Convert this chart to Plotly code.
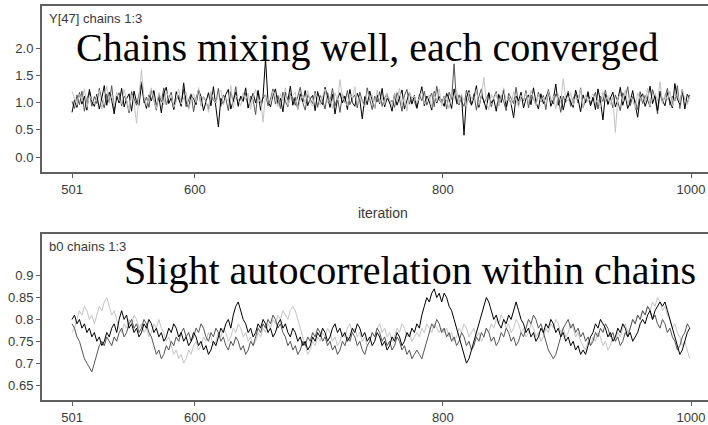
import plotly.graph_objects as go

# iterations (every 2nd iteration of 501..1000)
iterations = list(range(501, 1001, 2))

# ---- Y[47] chains 1:3 ----
y47_chain1 = [
0.82,1.05,0.91,1.18,0.97,1.12,0.86,1.24,1.02,0.93,
1.15,0.88,1.08,1.31,0.95,1.19,1.04,0.79,1.12,0.99,
1.26,0.92,1.07,1.16,0.84,1.21,1.01,0.95,1.33,1.06,
0.89,1.14,1.03,1.22,0.94,1.10,0.81,1.17,1.28,0.98,
1.09,0.87,1.20,1.04,0.93,1.36,1.01,0.90,1.13,1.07,
0.96,1.23,1.11,0.85,1.02,1.18,0.94,1.29,0.91,0.55,
1.08,0.97,1.15,1.24,0.88,1.06,1.19,0.93,1.12,1.02,
1.27,0.90,1.05,1.17,0.99,1.21,0.86,1.11,1.80,1.03,
0.92,1.14,1.25,0.97,1.08,0.83,1.19,1.04,1.30,0.95,
1.10,0.88,1.16,1.01,1.22,0.94,1.07,1.13,0.85,1.20,
1.03,0.96,1.28,1.09,0.91,1.15,0.79,1.06,1.18,0.99,
1.12,0.87,1.24,1.00,0.93,1.17,1.05,0.70,1.11,0.96,
1.21,1.04,0.89,1.14,0.98,1.26,0.92,1.08,1.01,0.84,
1.16,0.95,1.10,1.23,0.88,1.05,1.19,0.97,1.13,0.90,
1.07,1.29,0.94,1.12,1.02,0.86,1.20,0.99,1.11,1.04,
0.93,1.17,1.06,0.89,1.25,1.01,0.96,1.14,0.40,1.09,
1.22,0.95,1.08,1.31,0.91,1.13,1.03,0.87,1.18,0.99,
1.06,0.84,1.15,1.00,1.24,0.92,1.10,0.97,0.72,1.12,
1.03,1.19,0.90,1.07,1.14,0.96,1.27,1.01,0.88,1.16,
0.98,1.09,1.21,0.93,1.05,1.34,0.95,1.12,0.86,1.08,
1.17,1.00,0.91,1.23,1.06,0.83,1.14,0.99,1.20,0.94,
1.10,0.87,1.25,1.03,0.68,1.15,0.97,1.08,1.19,0.92,
1.05,1.28,0.95,1.12,0.89,1.01,1.22,0.96,0.73,1.09,
1.16,0.93,1.07,1.30,0.98,1.13,0.85,1.21,1.04,0.94,
1.18,1.02,0.90,1.35,1.06,0.97,1.24,0.88,1.15,1.08]

y47_chain2 = [
1.02,0.89,1.14,0.96,1.21,0.84,1.07,1.19,0.93,1.11,
0.98,1.26,1.05,0.90,1.16,1.00,1.31,0.87,1.09,1.18,
0.94,1.12,1.03,0.81,1.20,1.07,0.95,1.15,1.38,0.99,
1.10,0.91,1.23,1.04,0.86,1.17,1.01,1.27,0.96,1.08,
1.19,0.88,1.06,1.13,0.97,1.24,0.92,1.05,1.16,0.83,
1.09,1.22,0.95,1.11,1.02,0.87,1.18,1.04,0.99,1.26,
0.93,1.14,1.07,0.85,1.20,1.01,1.29,0.96,1.10,1.03,
1.17,0.90,1.12,1.05,0.78,1.23,0.99,1.08,1.15,0.94,
1.06,1.25,0.97,1.13,0.89,1.19,1.02,0.92,1.16,1.09,
0.95,1.11,1.28,1.00,0.86,1.14,1.07,0.98,1.21,0.91,
1.13,1.04,0.88,1.18,1.01,1.26,0.94,1.09,0.82,1.15,
1.00,1.22,0.96,1.08,1.14,0.90,1.19,1.03,0.95,1.27,
1.06,0.87,1.12,1.01,1.20,0.93,1.09,1.16,0.98,1.04,
0.91,1.18,1.07,0.84,1.13,1.24,0.97,1.10,1.02,0.89,
1.15,1.03,1.21,0.95,1.08,1.17,0.92,1.30,1.05,0.99,
1.12,0.88,1.19,1.06,1.71,0.97,1.14,1.01,0.93,1.23,
1.04,0.96,1.16,0.86,1.11,1.25,0.99,1.07,1.18,0.92,
1.09,1.20,0.94,1.13,1.02,0.85,1.17,1.06,0.98,1.28,
0.95,1.10,1.03,1.22,0.90,1.14,1.07,0.96,1.19,1.01,
1.13,0.87,1.24,1.05,0.97,1.16,1.09,0.82,1.12,1.00,
1.21,0.93,1.08,1.15,0.99,1.27,0.91,1.04,1.17,0.95,
1.06,1.19,0.88,1.12,1.02,1.23,0.96,1.10,0.90,1.14,
1.01,0.85,1.18,1.07,1.29,0.94,1.11,1.03,0.87,1.20,
0.98,1.13,1.05,0.92,1.24,1.08,0.79,1.16,1.00,1.10,
1.26,0.95,1.12,1.03,1.31,0.89,1.17,1.06,0.99,1.14]

y47_chain3 = [
1.20,1.08,0.95,1.16,1.02,1.25,0.91,1.13,1.04,0.97,
1.11,1.22,0.88,1.07,1.30,1.00,1.15,0.93,1.19,1.05,
0.98,1.24,1.06,0.85,1.14,1.01,0.62,1.17,1.60,1.09,
0.94,1.12,1.27,1.03,0.89,1.18,1.05,0.96,1.21,1.08,
1.14,0.91,1.02,1.25,0.97,1.10,1.19,0.87,1.06,1.16,
1.00,1.28,0.93,1.11,1.04,0.82,1.20,1.07,0.99,1.15,
1.23,0.96,1.09,1.02,1.31,0.90,1.13,1.06,0.94,1.18,
1.05,1.17,0.88,1.12,1.24,0.99,1.07,0.64,1.15,1.02,
0.97,1.21,1.10,0.92,1.16,1.03,1.27,0.95,1.08,1.13,
1.19,0.86,1.05,1.14,0.98,1.22,1.01,0.93,1.17,1.09,
0.95,1.12,1.25,1.00,1.07,0.89,1.18,1.04,1.42,1.10,
1.03,0.94,1.16,1.08,1.29,0.97,1.11,1.02,0.91,1.20,
1.07,1.14,0.88,1.23,1.00,1.09,0.96,1.17,1.05,0.93,
1.15,1.02,1.26,0.95,1.10,0.84,1.19,1.06,1.12,0.99,
1.08,1.21,0.97,1.04,1.14,0.91,1.18,1.01,1.25,0.94,
1.11,1.03,0.89,1.16,1.07,1.22,0.98,1.13,1.05,0.92,
1.19,1.08,1.00,1.24,0.95,1.12,1.46,1.02,0.87,1.15,
1.06,1.17,0.93,1.10,1.27,1.01,1.09,0.96,1.20,1.04,
0.91,1.13,1.05,1.18,0.99,1.22,1.07,0.94,1.15,1.02,
1.10,0.97,1.21,1.04,1.12,0.88,1.16,1.00,1.44,1.07,
1.03,1.18,0.95,1.11,1.06,1.25,0.92,1.14,1.01,1.09,
1.16,0.99,1.07,0.89,1.20,1.04,1.13,0.96,1.10,0.45,
1.08,1.15,1.02,1.23,0.97,1.11,1.05,0.90,1.18,1.06,
1.12,1.00,1.26,0.94,1.09,1.17,1.03,1.38,0.98,1.14,
1.05,1.21,0.93,1.10,1.16,0.99,1.24,1.07,0.96,1.12]

# ---- b0 chains 1:3 ----
b0_chain1 = [
0.80,0.81,0.79,0.80,0.78,0.79,0.77,0.78,0.76,0.77,
0.75,0.76,0.74,0.75,0.77,0.76,0.78,0.79,0.77,0.80,
0.82,0.80,0.81,0.78,0.79,0.77,0.78,0.76,0.77,0.79,
0.78,0.80,0.79,0.77,0.78,0.76,0.77,0.75,0.76,0.78,
0.77,0.79,0.78,0.76,0.77,0.75,0.76,0.74,0.75,0.77,
0.76,0.74,0.75,0.73,0.74,0.72,0.73,0.75,0.74,0.76,
0.78,0.77,0.79,0.80,0.78,0.81,0.83,0.84,0.82,0.80,
0.79,0.77,0.78,0.76,0.77,0.79,0.78,0.80,0.79,0.77,
0.78,0.76,0.77,0.79,0.80,0.78,0.79,0.77,0.76,0.78,
0.77,0.75,0.76,0.74,0.75,0.73,0.74,0.76,0.75,0.77,
0.76,0.78,0.77,0.75,0.76,0.78,0.79,0.77,0.78,0.76,
0.77,0.75,0.76,0.78,0.77,0.79,0.78,0.76,0.77,0.75,
0.76,0.74,0.75,0.77,0.76,0.74,0.75,0.73,0.74,0.76,
0.75,0.77,0.76,0.74,0.75,0.77,0.76,0.78,0.77,0.79,
0.78,0.81,0.83,0.85,0.84,0.86,0.87,0.85,0.86,0.84,
0.86,0.85,0.83,0.82,0.80,0.78,0.76,0.74,0.72,0.70,
0.71,0.73,0.75,0.77,0.79,0.81,0.83,0.85,0.84,0.82,
0.80,0.81,0.79,0.78,0.80,0.79,0.81,0.80,0.82,0.84,
0.82,0.80,0.79,0.77,0.78,0.76,0.77,0.75,0.76,0.78,
0.77,0.79,0.78,0.80,0.79,0.77,0.78,0.76,0.77,0.75,
0.76,0.74,0.75,0.73,0.74,0.72,0.73,0.72,0.74,0.76,
0.77,0.79,0.78,0.80,0.79,0.78,0.76,0.77,0.75,0.76,
0.78,0.77,0.79,0.78,0.76,0.77,0.75,0.76,0.77,0.79,
0.80,0.79,0.81,0.82,0.80,0.82,0.83,0.84,0.83,0.84,
0.82,0.80,0.78,0.76,0.74,0.72,0.73,0.75,0.77,0.78]

b0_chain2 = [
0.79,0.78,0.76,0.75,0.73,0.71,0.70,0.69,0.68,0.70,
0.72,0.74,0.75,0.74,0.76,0.75,0.74,0.76,0.75,0.77,
0.78,0.76,0.77,0.79,0.80,0.78,0.79,0.77,0.78,0.80,
0.79,0.77,0.76,0.74,0.72,0.73,0.71,0.72,0.74,0.73,
0.75,0.74,0.76,0.75,0.77,0.78,0.76,0.77,0.75,0.76,
0.78,0.77,0.79,0.78,0.76,0.75,0.77,0.76,0.78,0.77,
0.75,0.76,0.74,0.73,0.75,0.74,0.76,0.75,0.73,0.74,
0.72,0.73,0.75,0.74,0.76,0.78,0.77,0.79,0.78,0.80,
0.79,0.81,0.80,0.78,0.79,0.77,0.76,0.74,0.75,0.73,
0.74,0.72,0.73,0.75,0.74,0.76,0.75,0.77,0.76,0.78,
0.77,0.75,0.76,0.74,0.75,0.73,0.74,0.72,0.73,0.75,
0.74,0.76,0.75,0.77,0.76,0.74,0.75,0.73,0.72,0.74,
0.75,0.77,0.76,0.78,0.77,0.75,0.76,0.74,0.75,0.73,
0.74,0.76,0.75,0.73,0.74,0.72,0.73,0.71,0.72,0.73,
0.72,0.71,0.73,0.75,0.77,0.79,0.78,0.80,0.79,0.77,
0.78,0.76,0.77,0.75,0.76,0.74,0.75,0.77,0.76,0.74,
0.75,0.73,0.74,0.76,0.75,0.77,0.76,0.78,0.77,0.75,
0.76,0.74,0.75,0.77,0.76,0.78,0.77,0.75,0.76,0.74,
0.75,0.77,0.76,0.78,0.80,0.79,0.81,0.80,0.78,0.79,
0.77,0.75,0.73,0.72,0.71,0.72,0.74,0.76,0.78,0.79,
0.80,0.78,0.79,0.77,0.78,0.76,0.77,0.75,0.76,0.74,
0.75,0.77,0.76,0.78,0.77,0.79,0.78,0.76,0.77,0.75,
0.76,0.74,0.75,0.77,0.76,0.78,0.80,0.79,0.81,0.80,
0.82,0.81,0.83,0.82,0.80,0.81,0.79,0.78,0.80,0.79,
0.77,0.78,0.76,0.75,0.73,0.74,0.76,0.77,0.79,0.78]

b0_chain3 = [
0.77,0.78,0.80,0.82,0.81,0.83,0.82,0.80,0.81,0.79,
0.81,0.83,0.82,0.84,0.85,0.83,0.81,0.82,0.80,0.78,
0.77,0.79,0.78,0.80,0.79,0.81,0.80,0.78,0.79,0.77,
0.78,0.76,0.77,0.79,0.78,0.80,0.78,0.77,0.75,0.76,
0.74,0.72,0.73,0.71,0.72,0.70,0.71,0.73,0.72,0.74,
0.75,0.73,0.74,0.76,0.75,0.77,0.76,0.74,0.75,0.77,
0.76,0.78,0.77,0.75,0.76,0.78,0.77,0.79,0.78,0.76,
0.77,0.75,0.76,0.74,0.75,0.77,0.76,0.78,0.77,0.79,
0.78,0.80,0.79,0.81,0.80,0.82,0.81,0.80,0.82,0.83,
0.82,0.80,0.78,0.76,0.74,0.72,0.73,0.75,0.74,0.76,
0.75,0.77,0.76,0.78,0.77,0.75,0.76,0.74,0.75,0.77,
0.76,0.78,0.79,0.77,0.78,0.76,0.77,0.75,0.76,0.74,
0.75,0.77,0.76,0.78,0.79,0.77,0.78,0.76,0.77,0.75,
0.76,0.78,0.77,0.79,0.78,0.76,0.77,0.75,0.76,0.77,
0.76,0.78,0.77,0.79,0.78,0.77,0.79,0.78,0.77,0.78,
0.77,0.78,0.76,0.77,0.75,0.76,0.78,0.77,0.79,0.78,
0.76,0.77,0.78,0.76,0.77,0.75,0.76,0.78,0.77,0.79,
0.78,0.80,0.79,0.81,0.80,0.78,0.79,0.77,0.78,0.80,
0.79,0.77,0.78,0.76,0.77,0.79,0.78,0.76,0.77,0.75,
0.76,0.78,0.77,0.79,0.78,0.80,0.79,0.77,0.78,0.76,
0.77,0.79,0.78,0.76,0.77,0.75,0.74,0.73,0.75,0.74,
0.76,0.75,0.77,0.76,0.74,0.75,0.73,0.74,0.76,0.75,
0.77,0.76,0.78,0.79,0.77,0.78,0.80,0.79,0.81,0.80,
0.82,0.81,0.83,0.82,0.84,0.83,0.85,0.84,0.82,0.83,
0.81,0.80,0.78,0.79,0.77,0.76,0.74,0.75,0.73,0.71]

x_tickvals = [501, 600, 800, 1000]
top_tickvals = [0.0, 0.5, 1.0, 1.5, 2.0]
top_ticktext = ["0.0", "0.5", "1.0", "1.5", "2.0"]
bot_tickvals = [0.65, 0.7, 0.75, 0.8, 0.85, 0.9]
bot_ticktext = ["0.65", "0.7", "0.75", "0.8", "0.85", "0.9"]

chain_colors = ["#000000", "#555555", "#c4c4c4"]

W, H = 708, 425
def py(px):
    return 1 - px / H

fig = go.Figure()
top_chains = [y47_chain1, y47_chain2, y47_chain3]
bot_chains = [b0_chain1, b0_chain2, b0_chain3]
for idx in [1, 0, 2]:
    fig.add_trace(go.Scatter(x=iterations, y=top_chains[idx], mode="lines",
                             line=dict(color=chain_colors[idx], width=1),
                             xaxis="x", yaxis="y", showlegend=False, hoverinfo="skip"))
for idx in [2, 1, 0]:
    fig.add_trace(go.Scatter(x=iterations, y=bot_chains[idx], mode="lines",
                             line=dict(color=chain_colors[idx], width=1),
                             xaxis="x2", yaxis="y2", showlegend=False, hoverinfo="skip"))

tick_font = dict(family="Liberation Sans, Arial", size=13, color="#3a3a3a")
axis_common = dict(showgrid=False, zeroline=False, showline=True, mirror=True,
                   linecolor="#606060", linewidth=2, ticks="outside", ticklen=4,
                   tickcolor="#606060", tickwidth=1, tickfont=tick_font)
xdom = [42 / W, 1.0]
xr = [476.8, 1013.7]
label_font = dict(family="Liberation Sans, Arial", size=13, color="#3a3a3a")

fig.update_layout(
    template="none",
    width=W, height=H, margin=dict(l=0, r=0, t=0, b=0, pad=0),
    plot_bgcolor="white", paper_bgcolor="white",
    xaxis=dict(domain=xdom, range=xr, tickvals=x_tickvals, anchor="y", **axis_common),
    yaxis=dict(domain=[py(172), py(6)], range=[-0.275, 2.771], tickvals=top_tickvals,
               ticktext=top_ticktext, anchor="x", **axis_common),
    xaxis2=dict(domain=xdom, range=xr, tickvals=x_tickvals, anchor="y2", **axis_common),
    yaxis2=dict(domain=[py(400), py(234)], range=[0.6157, 0.9954], tickvals=bot_tickvals,
                ticktext=bot_ticktext, anchor="x2", **axis_common),
    annotations=[
        dict(text="Y[47] chains 1:3", x=47 / W, y=py(19), xref="paper", yref="paper",
             xanchor="left", yanchor="middle", showarrow=False, font=label_font),
        dict(text="b0 chains 1:3", x=47 / W, y=py(246), xref="paper", yref="paper",
             xanchor="left", yanchor="middle", showarrow=False, font=label_font),
        dict(text="iteration", x=383 / W, y=py(213), xref="paper", yref="paper",
             xanchor="center", yanchor="middle", showarrow=False,
             font=dict(family="Liberation Sans, Arial", size=14, color="#3a3a3a")),
        dict(text="Chains mixing well, each converged", x=74 / W, y=py(48),
             xref="paper", yref="paper", xanchor="left", yanchor="middle", showarrow=False,
             font=dict(family="Liberation Serif, Times New Roman, serif", size=40, color="#000000")),
        dict(text="Slight autocorrelation within chains", x=122 / W, y=py(270),
             xref="paper", yref="paper", xanchor="left", yanchor="middle", showarrow=False,
             font=dict(family="Liberation Serif, Times New Roman, serif", size=40, color="#000000")),
    ],
)

fig.write_html("out.html", config={"displayModeBar": False},
               post_script="document.body.style.margin='0';document.body.style.overflow='hidden';")
